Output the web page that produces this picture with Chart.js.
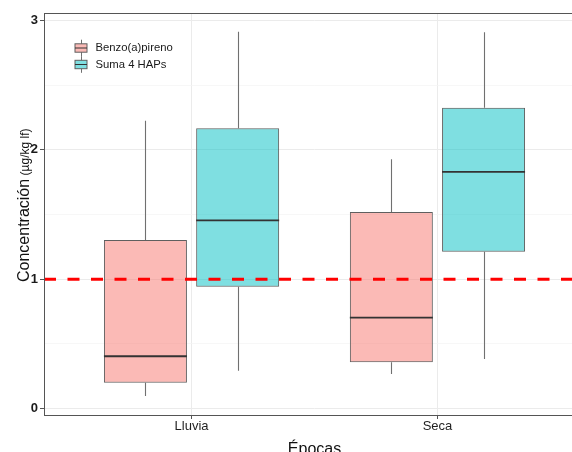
<!DOCTYPE html>
<html>
<head>
<meta charset="utf-8">
<title>Concentración por épocas</title>
<script src="https://cdn.jsdelivr.net/npm/chart.js@4.4.1/dist/chart.umd.min.js"></script>
<style>
  html, body { margin: 0; padding: 0; background: #ffffff; width: 572px; height: 452px; overflow: hidden; }
  #wrap { width: 590px; height: 452px; }
  canvas { display: block; }
</style>
</head>
<body>
<div id="wrap"><canvas id="chart" width="590" height="452"></canvas></div>
<script>
// ---- data -------------------------------------------------------------
const categories = ['Lluvia', 'Seca'];
const seriesNames = ['Benzo(a)pireno', 'Suma 4 HAPs'];

// Benzo(a)pireno: whisker ends, quartiles and median per season
const bapLow  = [0.097, 0.267];
const bapQ1   = [0.199, 0.357];
const bapMed  = [0.404, 0.702];
const bapQ3   = [1.303, 1.519];
const bapHigh = [2.225, 1.927];

// Suma 4 HAPs
const hapLow  = [0.292, 0.383];
const hapQ1   = [0.942, 1.212];
const hapMed  = [1.455, 1.829];
const hapQ3   = [2.167, 2.326];
const hapHigh = [2.913, 2.909];

const referenceLimit = 1;                 // dashed red line
const yMajorTicks = [0, 1, 2, 3];
const yMinorTicks = [0.5, 1.5, 2.5];

const xTitle = 'Épocas';
const yTitleMain = 'Concentración';
const yTitleUnit = '(µg/kg lf)';

// ---- styling ----------------------------------------------------------
const FONT = "'Liberation Sans', Arial, Helvetica, sans-serif";
const fills = ['rgba(248,118,109,0.5)', 'rgba(0,191,196,0.5)'];
const OUTLINE = '#5f5f5f';
const WHISKER = '#707070';
const MEDIAN = '#333333';

function boxes(q1, q3) {
  return categories.map((_, i) => ({ x: i + 1, y: [q1[i], q3[i]] }));
}

const isMajor = v => Math.abs(v - Math.round(v)) < 1e-9;

// whiskers behind the boxes, medians / reference line / legend / frame on top
const boxPlotExtras = {
  id: 'boxPlotExtras',
  beforeDatasetsDraw(chart) {
    const { ctx, scales: { y } } = chart;
    chart.data.datasets.forEach((ds, di) => {
      const meta = chart.getDatasetMeta(di);
      meta.data.forEach((bar, i) => {
        const { x } = bar.getProps(['x'], true);
        const px = Math.round(x) + 0.5;
        ctx.save();
        ctx.strokeStyle = WHISKER;
        ctx.lineWidth = 1.1;
        ctx.beginPath();
        ctx.moveTo(px, y.getPixelForValue(ds.stats.high[i]));
        ctx.lineTo(px, y.getPixelForValue(ds.stats.q3[i]));
        ctx.moveTo(px, y.getPixelForValue(ds.stats.q1[i]));
        ctx.lineTo(px, y.getPixelForValue(ds.stats.low[i]));
        ctx.stroke();
        ctx.restore();
      });
    });
  },
  afterDatasetsDraw(chart) {
    const { ctx, chartArea, scales: { y } } = chart;
    // medians
    chart.data.datasets.forEach((ds, di) => {
      const meta = chart.getDatasetMeta(di);
      meta.data.forEach((bar, i) => {
        const { x, width } = bar.getProps(['x', 'width'], true);
        const py = y.getPixelForValue(ds.stats.med[i]);
        ctx.save();
        ctx.strokeStyle = MEDIAN;
        ctx.lineWidth = 1.8;
        ctx.beginPath();
        ctx.moveTo(x - width / 2, py);
        ctx.lineTo(x + width / 2, py);
        ctx.stroke();
        ctx.restore();
      });
    });
    // reference limit
    const ry = y.getPixelForValue(referenceLimit);
    ctx.save();
    ctx.strokeStyle = '#ff0000';
    ctx.lineWidth = 3;
    ctx.setLineDash([12, 11.5]);
    ctx.beginPath();
    ctx.moveTo(chartArea.left, ry);
    ctx.lineTo(chartArea.right, ry);
    ctx.stroke();
    ctx.restore();
  },
  afterDraw(chart) {
    const { ctx, chartArea } = chart;
    // panel frame
    ctx.save();
    ctx.strokeStyle = '#555555';
    ctx.lineWidth = 1;
    ctx.strokeRect(Math.round(chartArea.left) + 0.5, Math.round(chartArea.top) + 0.5,
                   Math.round(chartArea.right - chartArea.left), Math.round(chartArea.bottom - chartArea.top));
    ctx.restore();

    // legend inside the panel
    const keyX = chartArea.left + 37;
    const rows = [chartArea.top + 35, chartArea.top + 51.5];
    chart.data.datasets.forEach((ds, di) => {
      const cy = rows[di];
      ctx.save();
      ctx.strokeStyle = WHISKER;
      ctx.lineWidth = 1;
      ctx.beginPath();
      ctx.moveTo(Math.round(keyX) + 0.5, cy - 8.3);
      ctx.lineTo(Math.round(keyX) + 0.5, cy + 8.3);
      ctx.stroke();
      ctx.fillStyle = '#ffffff';
      ctx.fillRect(keyX - 6, cy - 4.2, 12, 8.4);
      ctx.fillStyle = ds.backgroundColor;
      ctx.fillRect(keyX - 6, cy - 4.2, 12, 8.4);
      ctx.strokeStyle = OUTLINE;
      ctx.strokeRect(keyX - 6, cy - 4.2, 12, 8.4);
      ctx.strokeStyle = MEDIAN;
      ctx.beginPath();
      ctx.moveTo(keyX - 6, cy);
      ctx.lineTo(keyX + 6, cy);
      ctx.stroke();
      ctx.fillStyle = '#1a1a1a';
      ctx.font = `11.3px ${FONT}`;
      ctx.textAlign = 'left';
      ctx.textBaseline = 'middle';
      ctx.fillText(ds.label, keyX + 14.5, cy + 0.3);
      ctx.restore();
    });

    // x axis title, centred on the panel
    ctx.save();
    ctx.fillStyle = '#111111';
    ctx.font = `16px ${FONT}`;
    ctx.textAlign = 'center';
    ctx.textBaseline = 'alphabetic';
    ctx.fillText(xTitle, (chartArea.left + chartArea.right) / 2, 454);
    ctx.restore();

    // y axis title: large word plus smaller unit
    ctx.save();
    ctx.translate(28.7, 282);
    ctx.rotate(-Math.PI / 2);
    ctx.fillStyle = '#111111';
    ctx.textAlign = 'left';
    ctx.textBaseline = 'alphabetic';
    ctx.font = `16px ${FONT}`;
    ctx.fillText(yTitleMain, 0, 0);
    const w = ctx.measureText(yTitleMain + ' ').width;
    ctx.font = `12px ${FONT}`;
    ctx.fillText(yTitleUnit, w - 1, 0);
    ctx.restore();
  }
};

new Chart(document.getElementById('chart'), {
  type: 'bar',
  data: {
    datasets: [
      {
        label: seriesNames[0],
        data: boxes(bapQ1, bapQ3),
        backgroundColor: fills[0],
        borderColor: OUTLINE,
        borderWidth: 1,
        borderSkipped: false,
        stats: { low: bapLow, q1: bapQ1, med: bapMed, q3: bapQ3, high: bapHigh }
      },
      {
        label: seriesNames[1],
        data: boxes(hapQ1, hapQ3),
        backgroundColor: fills[1],
        borderColor: OUTLINE,
        borderWidth: 1,
        borderSkipped: false,
        stats: { low: hapLow, q1: hapQ1, med: hapMed, q3: hapQ3, high: hapHigh }
      }
    ]
  },
  options: {
    responsive: false,
    animation: false,
    devicePixelRatio: 1,
    layout: { padding: { top: 13, right: 5, left: 0, bottom: 0 } },
    datasets: { bar: { categoryPercentage: 0.75, barPercentage: 0.9 } },
    plugins: { legend: { display: false }, tooltip: { enabled: false } },
    scales: {
      x: {
        type: 'linear',
        min: 0.4,
        max: 2.6,
        offset: false,
        afterBuildTicks: s => { s.ticks = categories.map((_, i) => ({ value: i + 1 })); },
        afterFit: s => { s.height = 37; },
        ticks: {
          callback: v => categories[Math.round(v) - 1] ?? '',
          font: { family: FONT, size: 13 },
          color: '#1f1f1f',
          padding: 0,
          autoSkip: false,
          maxRotation: 0
        },
        grid: { offset: false, color: '#ebebeb', lineWidth: 1, tickLength: 4, tickColor: '#555555', tickWidth: 1 },
        border: { display: false }
      },
      y: {
        min: -0.0503,
        max: 3.058,
        afterBuildTicks: s => {
          s.ticks = [...yMajorTicks, ...yMinorTicks].sort((a, b) => a - b).map(v => ({ value: v }));
        },
        afterFit: s => { s.width = 44; },
        ticks: {
          callback: v => (isMajor(v) ? String(Math.round(v)) : ''),
          font: { family: FONT, size: 13, weight: 'bold' },
          color: '#1a1a1a',
          padding: 2,
          autoSkip: false
        },
        grid: {
          color: c => (isMajor(c.tick.value) ? '#ebebeb' : '#f3f3f3'),
          lineWidth: c => (isMajor(c.tick.value) ? 1 : 0.7),
          tickLength: 4,
          tickColor: c => (isMajor(c.tick.value) ? '#555555' : 'rgba(0,0,0,0)'),
          tickWidth: 1
        },
        border: { display: false }
      }
    }
  },
  plugins: [boxPlotExtras]
});
</script>
</body>
</html>
